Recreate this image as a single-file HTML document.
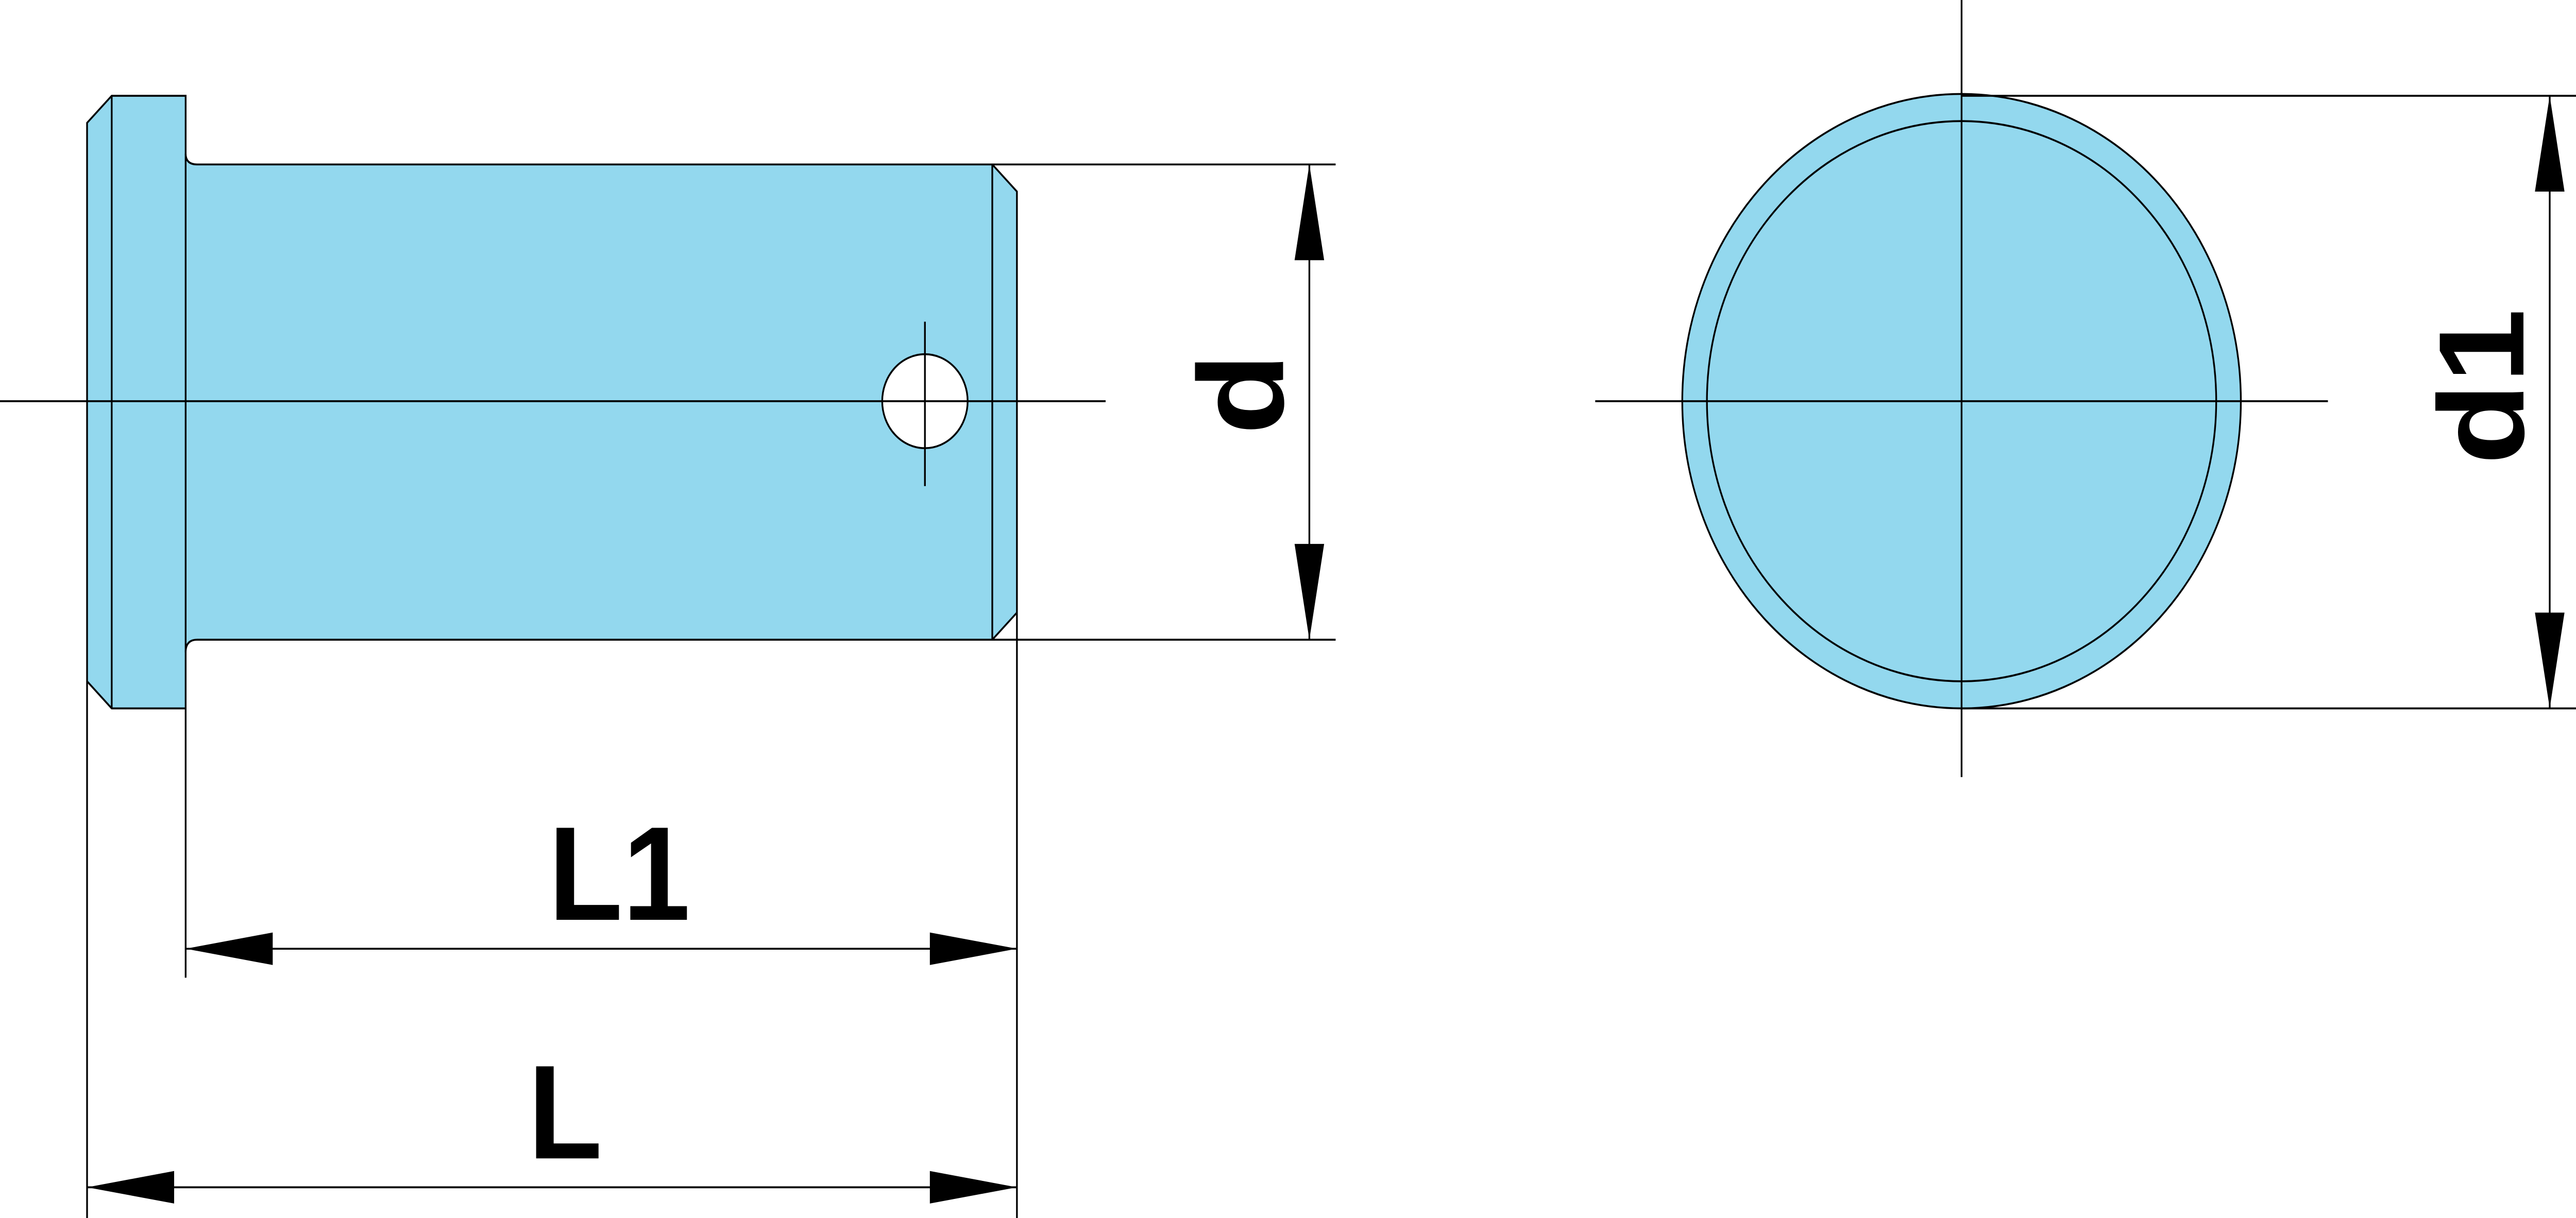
<!DOCTYPE html>
<html><head><meta charset="utf-8"><style>html,body{margin:0;padding:0;background:#fff;overflow:hidden;width:100%;height:100%}svg{display:block;position:absolute;left:0;top:0;width:100vw;height:100vh}</style></head>
<body>
<svg viewBox="0 0 1568 674" preserveAspectRatio="none" xmlns="http://www.w3.org/2000/svg">
<g stroke="#000" stroke-width="1.05" fill="none">
<path d="M53,68 L68,53 L113,53 L113,85 Q113,91 120,91 L604,91 L619,106 L619,339 L604,354 L120,354 Q113,354 113,361 L113,392 L68,392 L53,377 Z" fill="#93d8ee"/>
<line x1="68" y1="53" x2="68" y2="392"/>
<line x1="113" y1="85" x2="113" y2="361"/>
<line x1="604" y1="91" x2="604" y2="354"/>
<circle cx="563" cy="222" r="26" fill="#fff"/>
<line x1="563" y1="178" x2="563" y2="269"/>
<line x1="0" y1="222" x2="673" y2="222"/>
<line x1="604" y1="91" x2="813" y2="91"/>
<line x1="604" y1="354" x2="813" y2="354"/>
<line x1="797" y1="91" x2="797" y2="354"/>
<line x1="53" y1="377" x2="53" y2="674"/>
<line x1="619" y1="339" x2="619" y2="674"/>
<line x1="113" y1="392" x2="113" y2="541"/>
<line x1="113" y1="525" x2="619" y2="525"/>
<line x1="53" y1="657" x2="619" y2="657"/>
<circle cx="1194" cy="222" r="170" fill="#93d8ee"/>
<circle cx="1194" cy="222" r="155"/>
<line x1="971" y1="222" x2="1417" y2="222"/>
<line x1="1194" y1="0" x2="1194" y2="430"/>
<line x1="1194" y1="53" x2="1568" y2="53"/>
<line x1="1194" y1="392" x2="1568" y2="392"/>
<line x1="1552" y1="53" x2="1552" y2="392"/>
</g>
<g fill="#000">
<polygon points="797,91 788,144 806,144"/>
<polygon points="797,354 788,301 806,301"/>
<polygon points="113,525 166,516 166,534"/>
<polygon points="619,525 566,516 566,534"/>
<polygon points="53,657 106,648 106,666"/>
<polygon points="619,657 566,648 566,666"/>
<polygon points="1552,53 1543,106 1561,106"/>
<polygon points="1552,392 1543,339 1561,339"/>
</g>
<g font-family="Liberation Sans, sans-serif" font-weight="bold" font-size="74" fill="#000" text-anchor="middle">
<text x="377" y="509">L1</text>
<text x="344" y="641">L</text>
<text transform="translate(781,218) rotate(-90)">d</text>
<text transform="translate(1536,214) rotate(-90)">d1</text>
</g>
</svg>
</body></html>
